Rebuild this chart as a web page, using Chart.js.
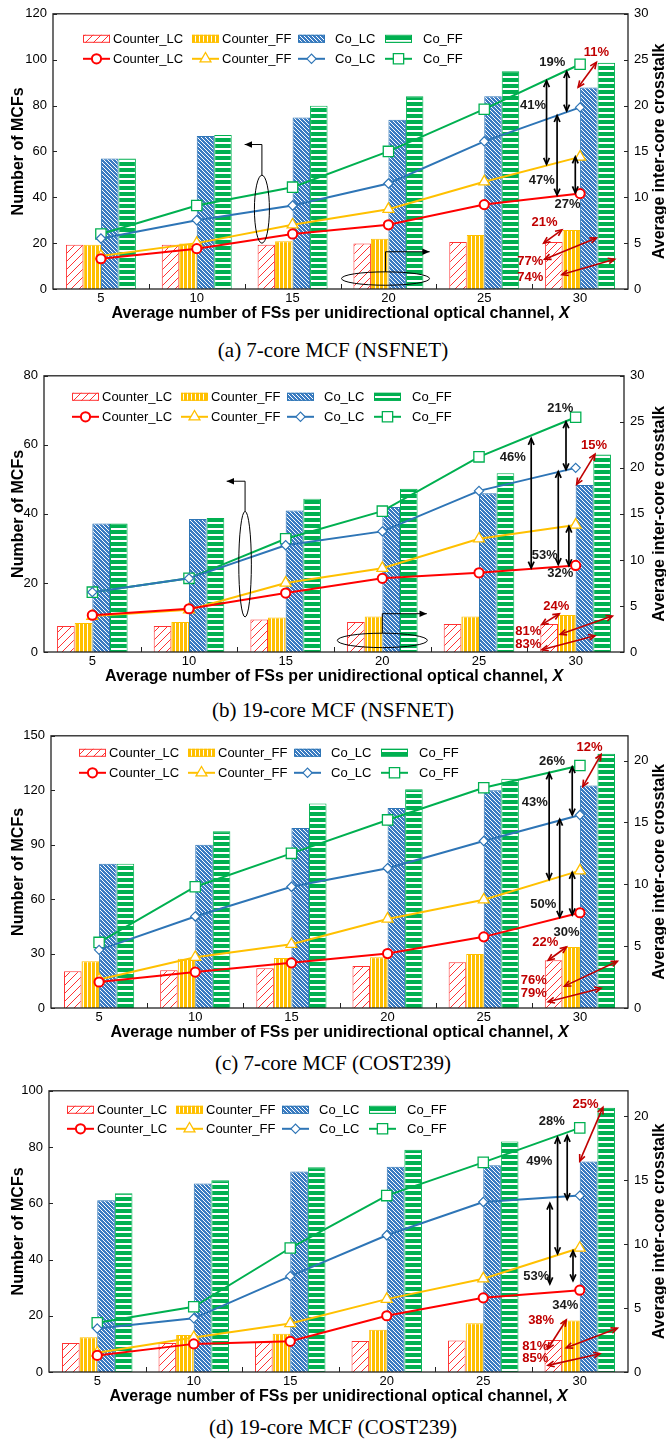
<!DOCTYPE html>
<html>
<head>
<meta charset="utf-8">
<script src="https://cdn.jsdelivr.net/npm/chart.js@4.4.1/dist/chart.umd.min.js"></script>
<style>
  body { margin: 0; background: #fff; width: 666px; height: 1439px; position: relative; overflow: hidden; }
  canvas { position: absolute; left: 0; }
  .caption { position: absolute; left: 0; width: 666px; text-align: center; line-height: 24px;
             font: 21px "Liberation Serif", "Times New Roman", serif; color: #000; }
</style>
</head>
<body>
<script>
// x categories: average number of FSs per unidirectional optical channel
const fsCounts = ['5', '10', '15', '20', '25', '30'];
const seriesNames = ['Counter_LC', 'Counter_FF', 'Co_LC', 'Co_FF'];

// (a) 7-core MCF (NSFNET) - number of MCFs (bars, left axis)
const mcfA_CounterLC = [19.3, 19.3, 19.3, 19.8, 20.5, 20.5];
const mcfA_CounterFF = [19.3, 19.8, 20.8, 21.9, 23.6, 25.7];
const mcfA_CoLC      = [56.9, 66.7, 74.8, 73.8, 84.1, 87.9];
const mcfA_CoFF      = [56.9, 67.1, 79.9, 84.1, 95.0, 98.7];
// (a) average inter-core crosstalk (lines, right axis)
const xtA_CounterLC = [3.3, 4.4, 6.0, 7.0, 9.2, 10.4];
const xtA_CounterFF = [3.6, 5.0, 7.0, 8.7, 11.7, 14.4];
const xtA_CoLC      = [5.5, 7.5, 9.1, 11.5, 16.1, 19.8];
const xtA_CoFF      = [6.0, 9.1, 11.1, 15.0, 19.6, 24.5];

// (b) 19-core MCF (NSFNET)
const mcfB_CounterLC = [7.5, 7.5, 9.4, 8.7, 8.1, 8.1];
const mcfB_CounterFF = [8.4, 8.7, 10.0, 10.3, 10.3, 10.7];
const mcfB_CoLC      = [37.2, 38.5, 41.0, 42.0, 46.0, 48.4];
const mcfB_CoFF      = [37.2, 38.8, 44.4, 47.3, 51.8, 57.2];
const xtB_CounterLC = [4.0, 4.7, 6.4, 8.0, 8.6, 9.4];
const xtB_CounterFF = [3.9, 4.6, 7.5, 9.1, 12.3, 13.8];
const xtB_CoLC      = [6.5, 8.0, 11.6, 13.1, 17.5, 20.0];
const xtB_CoFF      = [6.5, 8.0, 12.3, 15.3, 21.2, 25.5];

// (c) 7-core MCF (COST239)
const mcfC_CounterLC = [20.3, 20.8, 21.9, 23.2, 25.2, 26.3];
const mcfC_CounterFF = [25.8, 27.2, 27.6, 28.0, 29.8, 33.6];
const mcfC_CoLC      = [79.5, 89.9, 99.2, 110.2, 120.0, 122.6];
const mcfC_CoFF      = [79.5, 97.4, 112.7, 120.6, 126.4, 140.1];
const xtC_CounterLC = [2.1, 2.9, 3.65, 4.4, 5.75, 7.7];
const xtC_CounterFF = [2.3, 4.1, 5.15, 7.2, 8.75, 11.1];
const xtC_CoLC      = [4.7, 7.4, 9.8, 11.3, 13.5, 15.6];
const xtC_CoFF      = [5.3, 9.8, 12.5, 15.2, 17.8, 19.6];

// (d) 19-core MCF (COST239)
const mcfD_CounterLC = [10.3, 10.3, 10.6, 11.0, 11.2, 11.4];
const mcfD_CounterFF = [12.4, 13.2, 13.6, 15.0, 17.3, 18.3];
const mcfD_CoLC      = [61.1, 67.0, 71.3, 73.0, 73.5, 74.9];
const mcfD_CoFF      = [63.6, 68.2, 72.8, 79.0, 82.0, 94.0];
const xtD_CounterLC = [1.3, 2.2, 2.4, 4.4, 5.8, 6.4];
const xtD_CounterFF = [1.5, 2.7, 3.8, 5.7, 7.3, 9.7];
const xtD_CoLC      = [3.4, 4.2, 7.5, 10.7, 13.3, 13.8];
const xtD_CoFF      = [3.85, 5.1, 9.7, 13.8, 16.4, 19.1];

Chart.defaults.font.family = '"Liberation Sans", Arial, sans-serif';
Chart.defaults.color = '#000';

const seriesStyle = [
  { line: '#FF0000', bar: '#FF3333', point: 'circle',   r: 4.6, bw: 2 },
  { line: '#FFC000', bar: '#FFC000', point: 'triangle', r: 6.3, bw: 1.3 },
  { line: '#2E75B6', bar: '#2E75B6', point: 'rectRot',  r: 4.6, bw: 1.2 },
  { line: '#00B050', bar: '#00B050', point: 'rect',     r: 7.3, bw: 1.3 }
];

function tile(w, h, draw) {
  const c = document.createElement('canvas');
  c.width = w; c.height = h;
  const g = c.getContext('2d');
  draw(g);
  return g.createPattern(c, 'repeat');
}
const patterns = [
  tile(8, 8, g => {        // red "/" hatch
    g.fillStyle = '#fff'; g.fillRect(0, 0, 8, 8);
    g.strokeStyle = '#FF3333'; g.lineWidth = 1;
    g.beginPath();
    [-8, 0, 8].forEach(k => { g.moveTo(k, 8); g.lineTo(k + 8, 0); });
    g.stroke();
  }),
  tile(4, 1, g => {        // yellow vertical stripes
    g.fillStyle = '#FFC000'; g.fillRect(0, 0, 4, 1);
    g.fillStyle = '#fff'; g.fillRect(3, 0, 1, 1);
  }),
  tile(4, 4, g => {        // blue "\" dense hatch
    g.fillStyle = '#3B7CC2'; g.fillRect(0, 0, 4, 4);
    g.strokeStyle = '#fff'; g.lineWidth = 1;
    g.beginPath();
    [-4, 0, 4].forEach(k => { g.moveTo(k, 0); g.lineTo(k + 4, 4); });
    g.stroke();
  }),
  tile(1, 6, g => {        // green horizontal stripes
    g.fillStyle = '#00B050'; g.fillRect(0, 0, 1, 6);
    g.fillStyle = '#fff'; g.fillRect(0, 4, 1, 2);
  })
];

// layout + annotation positions (x in category index, y on right axis)
const panels = [
  {
    top: 0, height: 330, areaTop: 8, areaBottom: 289, areaLeft: 53, areaRight: 628,
    yMax: 120, yStep: 20, y1Max: 30, caption: '(a) 7-core MCF (NSFNET)', captionY: 350,
    bars: [mcfA_CounterLC, mcfA_CounterFF, mcfA_CoLC, mcfA_CoFF],
    lines: [xtA_CounterLC, xtA_CounterFF, xtA_CoLC, xtA_CoFF],
    legendX: 30, legendRows: [25, 45],
    arrows: [[4.86, 23.7, 19.4, '19%', 4.71, 24.7], [4.65, 22.7, 13.6, '41%', 4.51, 20.0],
             [4.76, 18.9, 10.25, '47%', 4.60, 11.8], [4.95, 14.4, 10.5, '27%', 4.87, 9.2]],
    redArrows: [[4.98, 22.0, 5.17, 24.7, '11%', 5.17, 25.8], [4.62, 5.0, 4.81, 6.45, '21%', 4.63, 7.3],
                [4.63, 3.25, 5.17, 5.55, '77%', 4.48, 3.0], [4.81, 1.57, 5.36, 3.25, '74%', 4.48, 1.28]],
    ellipses: [[1.68, 8.7, 7.5, 34, 15.75, 1.5], [2.97, 1.14, 44, 6.7, 4.06, 3.43]]
  },
  {
    top: 362, height: 330, areaTop: 9, areaBottom: 290, areaLeft: 44, areaRight: 624,
    yMax: 80, yStep: 20, y1Max: 30, caption: '(b) 19-core MCF (NSFNET)', captionY: 710,
    bars: [mcfB_CounterLC, mcfB_CounterFF, mcfB_CoLC, mcfB_CoFF],
    lines: [xtB_CounterLC, xtB_CounterFF, xtB_CoLC, xtB_CoFF],
    legendX: 28, legendRows: [21, 41],
    arrows: [[4.90, 25.0, 19.8, '21%', 4.84, 26.5], [4.54, 23.2, 9.13, '46%', 4.35, 21.1],
             [4.82, 19.6, 9.5, '53%', 4.68, 10.5], [4.93, 13.65, 9.38, '32%', 4.84, 8.5]],
    redArrows: [[5.01, 18.2, 5.20, 21.5, '15%', 5.19, 22.45], [4.65, 2.98, 4.83, 4.16, '24%', 4.80, 4.97],
                [4.84, 1.92, 5.38, 3.9, '81%', 4.51, 2.2], [4.65, 0.25, 5.20, 1.77, '83%', 4.51, 0.85]],
    ellipses: [[1.58, 9.54, 6.3, 52.8, 18.55, 1.39], [3.0, 1.26, 45, 7.2, 4.16, 3.46]]
  },
  {
    top: 722, height: 325, areaTop: 12, areaBottom: 286, areaLeft: 51, areaRight: 628,
    yMax: 150, yStep: 30, y1Max: 22, caption: '(c) 7-core MCF (COST239)', captionY: 1063,
    bars: [mcfC_CounterLC, mcfC_CounterFF, mcfC_CoLC, mcfC_CoFF],
    lines: [xtC_CounterLC, xtC_CounterFF, xtC_CoLC, xtC_CoFF],
    legendX: 28, legendRows: [17, 37],
    arrows: [[4.92, 19.5, 15.6, '26%', 4.71, 19.9], [4.68, 19.0, 10.4, '43%', 4.53, 16.6],
             [4.79, 15.25, 7.34, '50%', 4.62, 8.4], [4.92, 10.96, 7.53, '30%', 4.86, 6.13]],
    redArrows: [[5.03, 17.9, 5.22, 20.5, '12%', 5.1, 21.1], [4.67, 3.86, 4.86, 4.93, '22%', 4.64, 5.33],
                [4.84, 1.77, 5.39, 3.78, '76%', 4.52, 2.25], [4.67, 0.5, 5.22, 1.6, '79%', 4.52, 1.18]],
    ellipses: []
  },
  {
    top: 1077, height: 330, areaTop: 12, areaBottom: 295, areaLeft: 49, areaRight: 628,
    yMax: 100, yStep: 20, y1Max: 22, caption: '(d) 19-core MCF (COST239)', captionY: 1427,
    bars: [mcfD_CounterLC, mcfD_CounterFF, mcfD_CoLC, mcfD_CoFF],
    lines: [xtD_CounterLC, xtD_CounterFF, xtD_CoLC, xtD_CoFF],
    legendX: 18, legendRows: [19, 38],
    arrows: [[4.87, 18.5, 13.5, '28%', 4.71, 19.6], [4.77, 18.35, 9.26, '49%', 4.58, 16.5],
             [4.69, 13.2, 6.9, '53%', 4.55, 7.45], [4.93, 9.47, 7.14, '34%', 4.85, 5.2]],
    redArrows: [[5.0, 16.5, 5.24, 20.7, '25%', 5.06, 20.9], [4.67, 1.82, 4.86, 4.07, '38%', 4.6, 4.07],
                [4.86, 1.9, 5.39, 3.42, '81%', 4.54, 2.0], [4.67, 0.52, 5.21, 1.43, '85%', 4.54, 1.04]],
    ellipses: []
  }
];

function marker(ctx, s, x, y) {
  const r = s.r;
  ctx.beginPath();
  if (s.point === 'circle') ctx.arc(x, y, r, 0, Math.PI * 2);
  else if (s.point === 'triangle') {
    ctx.moveTo(x, y - r); ctx.lineTo(x + r * 0.866, y + r / 2); ctx.lineTo(x - r * 0.866, y + r / 2); ctx.closePath();
  } else if (s.point === 'rectRot') {
    ctx.moveTo(x - r, y); ctx.lineTo(x, y - r); ctx.lineTo(x + r, y); ctx.lineTo(x, y + r); ctx.closePath();
  } else {
    const h = r * Math.SQRT1_2;
    ctx.rect(x - h, y - h, 2 * h, 2 * h);
  }
  ctx.fillStyle = '#fff'; ctx.fill();
  ctx.lineWidth = s.bw; ctx.strokeStyle = s.line; ctx.stroke();
}

function head(ctx, x, y, ang, len, filled) {
  const a1 = ang + Math.PI - 0.42, a2 = ang + Math.PI + 0.42;
  ctx.beginPath();
  ctx.moveTo(x + len * Math.cos(a1), y + len * Math.sin(a1));
  ctx.lineTo(x, y);
  ctx.lineTo(x + len * Math.cos(a2), y + len * Math.sin(a2));
  if (filled) { ctx.closePath(); ctx.fill(); } else ctx.stroke();
}

function doubleArrow(ctx, x1, y1, x2, y2) {
  ctx.beginPath(); ctx.moveTo(x1, y1); ctx.lineTo(x2, y2); ctx.stroke();
  const ang = Math.atan2(y2 - y1, x2 - x1);
  head(ctx, x2, y2, ang, 7, false);
  head(ctx, x1, y1, ang + Math.PI, 7, false);
}

function makeDecor(p) {
  return {
    id: 'decor',
    afterDatasetsDraw(chart) {
      const ctx = chart.ctx, a = chart.chartArea;
      const sx = chart.scales.x, sy = chart.scales.y, sr = chart.scales.y1;
      const X = v => sx.getPixelForValue(v), Y = v => sr.getPixelForValue(v);
      ctx.save();

      // frame and inward ticks
      ctx.strokeStyle = '#222'; ctx.lineWidth = 1.3;
      ctx.strokeRect(a.left, a.top, a.right - a.left, a.bottom - a.top);
      ctx.lineWidth = 1;
      ctx.beginPath();
      sy.ticks.forEach(t => { const y = Math.round(sy.getPixelForValue(t.value)) + 0.5; ctx.moveTo(a.left, y); ctx.lineTo(a.left + 4, y); });
      sr.ticks.forEach(t => { const y = Math.round(sr.getPixelForValue(t.value)) + 0.5; ctx.moveTo(a.right, y); ctx.lineTo(a.right - 4, y); });
      for (let i = 0; i < fsCounts.length - 1; i++) {
        const x = Math.round(X(i + 0.5)) + 0.5;
        ctx.moveTo(x, a.bottom); ctx.lineTo(x, a.bottom - 5);
      }
      ctx.stroke();

      // axis titles
      ctx.fillStyle = '#000';
      ctx.font = 'bold 16px "Liberation Sans", Arial, sans-serif';
      ctx.textAlign = 'center'; ctx.textBaseline = 'middle';
      const midY = (a.top + a.bottom) / 2;
      ctx.save(); ctx.translate(19, midY); ctx.rotate(-Math.PI / 2); ctx.fillText('Number of MCFs', 0, 0); ctx.restore();
      ctx.save(); ctx.translate(660, midY); ctx.rotate(-Math.PI / 2); ctx.fillText('Average inter-core crosstalk', 0, 0); ctx.restore();
      const t1 = 'Average number of FSs per unidirectional optical channel, ';
      const w1 = ctx.measureText(t1).width;
      ctx.font = 'italic bold 16px "Liberation Sans", Arial, sans-serif';
      const w2 = ctx.measureText('X').width;
      const x0 = (a.left + a.right) / 2 - (w1 + w2) / 2, ty = a.bottom + 25;
      ctx.textAlign = 'left';
      ctx.fillText('X', x0 + w1, ty);
      ctx.font = 'bold 16px "Liberation Sans", Arial, sans-serif';
      ctx.fillText(t1, x0, ty);

      // ellipses with pointers to their axis
      ctx.strokeStyle = '#000'; ctx.fillStyle = '#000'; ctx.lineWidth = 1;
      p.ellipses.forEach(([cx, cy, rx, ry, bendY, endX]) => {
        const px = X(cx), py = Y(cy);
        ctx.beginPath(); ctx.ellipse(px, py, rx, ry, 0, 0, Math.PI * 2); ctx.stroke();
        const by = Y(bendY), ex = X(endX);
        ctx.beginPath(); ctx.moveTo(px, py - ry); ctx.lineTo(px, by); ctx.lineTo(ex, by); ctx.stroke();
        head(ctx, ex, by, ex < px ? Math.PI : 0, 8, true);
      });

      // black difference arrows
      ctx.lineWidth = 1.7; ctx.strokeStyle = '#000';
      ctx.font = 'bold 13px "Liberation Sans", Arial, sans-serif';
      ctx.textAlign = 'center';
      p.arrows.forEach(([x, y1, y2, label, lx, ly]) => {
        doubleArrow(ctx, X(x), Y(y1), X(x), Y(y2));
        ctx.fillStyle = '#1a1a1a'; ctx.fillText(label, X(lx), Y(ly));
      });

      // red difference arrows
      ctx.strokeStyle = '#C00000'; ctx.lineWidth = 1.6;
      p.redArrows.forEach(([x1, y1, x2, y2, label, lx, ly]) => {
        doubleArrow(ctx, X(x1), Y(y1), X(x2), Y(y2));
        ctx.fillStyle = '#C00000'; ctx.fillText(label, X(lx), Y(ly));
      });

      // two-row legend: bars (patterns) and lines (markers)
      const lx0 = a.left + p.legendX;
      const swatchX = [0, 109, 215, 302], textX = [30, 139, 252, 340];
      const r1 = a.top + p.legendRows[0], r2 = a.top + p.legendRows[1];
      ctx.font = '13px "Liberation Sans", Arial, sans-serif';
      ctx.textAlign = 'left';
      seriesNames.forEach((name, i) => {
        const s = seriesStyle[i], x = lx0 + swatchX[i];
        ctx.fillStyle = patterns[i];
        ctx.fillRect(x, r1 - 4, 27, 8);
        ctx.strokeStyle = s.bar; ctx.lineWidth = 1;
        ctx.strokeRect(x + 0.5, r1 - 3.5, 26, 7);
        ctx.strokeStyle = s.line; ctx.lineWidth = 2;
        ctx.beginPath(); ctx.moveTo(x, r2); ctx.lineTo(x + 27, r2); ctx.stroke();
        marker(ctx, s, x + 13.5, r2);
        ctx.fillStyle = '#000';
        ctx.fillText(name, lx0 + textX[i], r1 + 1);
        ctx.fillText(name, lx0 + textX[i], r2 + 1);
      });
      ctx.restore();
    }
  };
}

panels.forEach(p => {
  const cv = document.createElement('canvas');
  cv.width = 666; cv.height = p.height;
  cv.style.top = p.top + 'px';
  document.body.appendChild(cv);

  const cap = document.createElement('div');
  cap.className = 'caption';
  cap.style.top = (p.captionY - 12) + 'px';
  cap.textContent = p.caption;
  document.body.appendChild(cap);

  const barSets = p.bars.map((vals, i) => ({
    type: 'bar', label: seriesNames[i], data: vals, yAxisID: 'y', order: 2,
    backgroundColor: patterns[i], borderColor: seriesStyle[i].bar, borderWidth: 1,
    categoryPercentage: 0.73, barPercentage: 1
  }));
  const lineSets = p.lines.map((vals, i) => ({
    type: 'line', label: seriesNames[i], data: vals, yAxisID: 'y1', order: 1,
    borderColor: seriesStyle[i].line, borderWidth: 2, tension: 0,
    pointStyle: seriesStyle[i].point, pointRadius: seriesStyle[i].r,
    pointBackgroundColor: '#fff', pointBorderColor: seriesStyle[i].line,
    pointBorderWidth: seriesStyle[i].bw
  }));

  new Chart(cv, {
    type: 'bar',
    data: { labels: fsCounts, datasets: barSets.concat(lineSets) },
    options: {
      responsive: false,
      animation: false,
      layout: { padding: { top: p.areaTop, left: 0, right: 0, bottom: 0 } },
      plugins: { legend: { display: false }, tooltip: { enabled: false } },
      scales: {
        x: {
          grid: { display: false, drawTicks: false }, border: { display: false },
          ticks: { font: { size: 13 }, color: '#000', padding: 2, maxRotation: 0 },
          afterFit: s => { s.height = p.height - p.areaBottom; }
        },
        y: {
          position: 'left', min: 0, max: p.yMax,
          grid: { display: false, drawTicks: false }, border: { display: false },
          ticks: { stepSize: p.yStep, font: { size: 13 }, color: '#000', padding: 6 },
          afterFit: s => { s.width = p.areaLeft; }
        },
        y1: {
          position: 'right', min: 0, max: p.y1Max,
          grid: { display: false, drawTicks: false }, border: { display: false },
          ticks: { stepSize: 5, font: { size: 13 }, color: '#000', padding: 6 },
          afterBuildTicks: s => { s.ticks = s.ticks.filter(t => t.value % 5 === 0); },
          afterFit: s => { s.width = 666 - p.areaRight; }
        }
      }
    },
    plugins: [makeDecor(p)]
  });
});
</script>
</body>
</html>
